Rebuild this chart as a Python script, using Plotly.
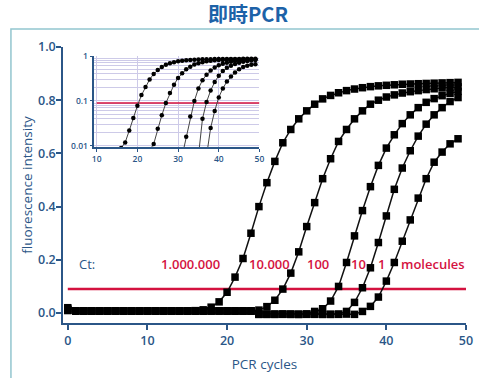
import plotly.graph_objects as go

# ---------------- data ----------------
cycles = list(range(0, 50))

curve_1000000 = [0.020, 0.008, 0.008, 0.007, 0.008, 0.008, 0.008, 0.007, 0.008, 0.008,
                 0.008, 0.008, 0.007, 0.008, 0.008, 0.008, 0.009, 0.012, 0.022, 0.042,
                 0.078, 0.135, 0.205, 0.300, 0.400, 0.490, 0.570, 0.640, 0.690, 0.730,
                 0.760, 0.785, 0.805, 0.818, 0.828, 0.836, 0.842, 0.847, 0.851, 0.854,
                 0.856, 0.858, 0.860, 0.861, 0.862, 0.863, 0.864, 0.865, 0.866, 0.867]
curve_10000 = [0.015, 0.008, 0.008, 0.008, 0.007, 0.008, 0.008, 0.008, 0.008, 0.007,
               0.008, 0.008, 0.008, 0.008, 0.007, 0.008, 0.008, 0.008, 0.008, 0.008,
               0.007, 0.008, 0.008, 0.008, 0.011, 0.024, 0.048, 0.090, 0.150, 0.230,
               0.325, 0.415, 0.505, 0.580, 0.645, 0.690, 0.730, 0.760, 0.785, 0.800,
               0.812, 0.820, 0.827, 0.832, 0.836, 0.840, 0.843, 0.846, 0.848, 0.850]
curve_100 = [0.010, 0.008, 0.008, 0.008, 0.008, 0.007, 0.008, 0.008, 0.008, 0.008,
             0.008, 0.007, 0.008, 0.008, 0.008, 0.008, 0.008, 0.007, 0.008, 0.008,
             0.008, 0.008, 0.008, 0.007, -0.004, -0.004, -0.005, -0.004, -0.004, -0.005,
             -0.004, 0.006, 0.016, 0.045, 0.100, 0.190, 0.290, 0.385, 0.475, 0.555,
             0.620, 0.670, 0.712, 0.745, 0.772, 0.792, 0.806, 0.817, 0.826, 0.833]
curve_10 = [0.010, 0.008, 0.008, 0.007, 0.008, 0.008, 0.008, 0.008, 0.007, 0.008,
            0.008, 0.008, 0.008, 0.008, 0.008, 0.007, 0.008, 0.008, 0.008, 0.008,
            0.008, 0.007, 0.008, 0.008, -0.005, -0.005, -0.004, -0.005, -0.005, -0.005,
            -0.004, -0.005, -0.005, -0.005, -0.004, 0.006, 0.040, 0.095, 0.170, 0.265,
            0.365, 0.465, 0.545, 0.610, 0.665, 0.710, 0.745, 0.772, 0.795, 0.810]
curve_1 = [0.010, 0.008, 0.007, 0.008, 0.008, 0.008, 0.008, 0.008, 0.008, 0.007,
           0.008, 0.008, 0.008, 0.008, 0.008, 0.008, 0.007, 0.008, 0.008, 0.008,
           0.008, 0.008, 0.007, 0.008, -0.005, -0.005, -0.005, -0.004, -0.005, -0.005,
           -0.005, -0.004, -0.005, -0.005, -0.005, -0.004, -0.005, 0.006, 0.025, 0.060,
           0.120, 0.190, 0.270, 0.350, 0.432, 0.505, 0.567, 0.605, 0.636, 0.655]

series = [curve_1000000, curve_10000, curve_100, curve_10, curve_1]

threshold = 0.09
x_ticks = [0, 10, 20, 30, 40, 50]
y_ticks = [0.0, 0.2, 0.4, 0.6, 0.8, 1.0]
inset_x_ticks = [10, 20, 30, 40, 50]
inset_y_ticks = [0.01, 0.1, 1]
inset_y_labels = ["0.01", "0.1", "1"]

ct_label = "Ct:"
copy_labels = ["1.000.000", "10.000", "100", "10", "1", "molecules"]
copy_label_x = [15.4, 25.3, 31.45, 36.5, 39.35, 45.9]
label_y = 0.184

# ---------------- style ----------------
BLUE = "#2b5687"
TITLE_BLUE = "#1d62a8"
RED = "#d4123f"
GRID = "#cdcae8"
FRAME = "#93c6cf"
FONT = "Open Sans, Noto Sans, DejaVu Sans, sans-serif"

fig = go.Figure()

# threshold (main)
fig.add_trace(go.Scatter(x=[x_ticks[0], x_ticks[-1]], y=[threshold, threshold], mode="lines",
                         line=dict(color=RED, width=2.5), hoverinfo="skip", showlegend=False,
                         xaxis="x", yaxis="y"))
# main curves
for s in series:
    fig.add_trace(go.Scatter(x=cycles, y=s, mode="lines+markers",
                             line=dict(color="#111111", width=1.5),
                             marker=dict(symbol="square", size=7.5, color="#000000"),
                             showlegend=False, xaxis="x", yaxis="y"))

# inset threshold
fig.add_trace(go.Scatter(x=[inset_x_ticks[0], inset_x_ticks[-1]], y=[threshold, threshold], mode="lines",
                         line=dict(color=RED, width=1.6), hoverinfo="skip", showlegend=False,
                         xaxis="x2", yaxis="y2"))
# inset curves
for s in series:
    fig.add_trace(go.Scatter(x=cycles, y=s, mode="lines+markers",
                             line=dict(color="#444444", width=1),
                             marker=dict(symbol="circle", size=4.5, color="#000000"),
                             showlegend=False, xaxis="x2", yaxis="y2"))

# plot area pixels: left 63, right 473.3, top 47, bottom 323
L, R, T, B = 63, 479 - 473.3, 47, 378 - 323
PW = 479 - L - R
PH = 378 - T - B

def px_x(p):
    return (p - L) / PW

def px_y(p):
    return (378 - B - p) / PH

axis_font = dict(family=FONT, size=12.5, color=BLUE, weight=600)

annotations = [dict(x=2.45, y=label_y, xref="x", yref="y", text=ct_label, showarrow=False,
                    font=dict(family=FONT, size=13, color=BLUE), xanchor="center", yanchor="middle")]
for lab, lx in zip(copy_labels, copy_label_x):
    annotations.append(dict(x=lx, y=label_y, xref="x", yref="y", text=lab, showarrow=False,
                            font=dict(family=FONT, size=13, color=RED, weight=600),
                            xanchor="center", yanchor="middle"))

shapes = [
    # outer frame
    dict(type="rect", xref="paper", yref="paper", x0=px_x(10), x1=px_x(490), y0=px_y(400), y1=px_y(29),
         line=dict(color=FRAME, width=1.5), fillcolor="rgba(0,0,0,0)", layer="below"),
]

ix0, ix1 = px_x(95), px_x(263)
iy0, iy1 = px_y(147.3), px_y(56)

fig.update_layout(
    width=479, height=378,
    margin=dict(l=L, r=R, t=T, b=B, pad=0),
    paper_bgcolor="white", plot_bgcolor="rgba(0,0,0,0)",
    title=dict(text="即時PCR", x=248 / 479, y=1 - 15 / 378, xref="container", yref="container",
               xanchor="center", yanchor="middle",
               font=dict(family="Noto Sans CJK TC, Noto Sans, sans-serif", size=20, color=TITLE_BLUE, weight=700)),
    xaxis=dict(domain=[0, 1], range=[-0.6, 50.0], tickvals=x_ticks, ticks="outside", ticklen=5,
               tickcolor=BLUE, tickwidth=1.5, showline=True, linecolor=BLUE, linewidth=1.5,
               showgrid=False, zeroline=False, tickfont=axis_font,
               title=dict(text="PCR cycles", font=dict(family=FONT, size=13.5, color=BLUE), standoff=12)),
    yaxis=dict(domain=[0, 1], range=[-0.0375, 1.0], tickvals=y_ticks, tickformat=".1f",
               ticks="outside", ticklen=5, tickcolor=BLUE, tickwidth=1.5, showline=True,
               linecolor=BLUE, linewidth=1.5, ticklabelstandoff=-2,
               showgrid=False, zeroline=False, tickfont=axis_font,
               title=dict(text="fluorescence intensity", font=dict(family=FONT, size=13.5, color=BLUE), standoff=2)),
    xaxis2=dict(domain=[ix0, ix1], anchor="y2", range=[9.44, 50], tickvals=inset_x_ticks,
                ticks="outside", ticklen=3, tickcolor=BLUE, showline=True, linecolor=BLUE, linewidth=1.5,
                showgrid=True, gridcolor=GRID, gridwidth=1, zeroline=False,
                tickfont=dict(family=FONT, size=8.5, color=BLUE, weight=600)),
    yaxis2=dict(domain=[iy0, iy1], anchor="x2", type="log", range=[-2.03, 0.0],
                tickvals=inset_y_ticks, ticktext=inset_y_labels,
                ticks="outside", ticklen=3, tickcolor=BLUE, showline=True, linecolor=BLUE, linewidth=1.5,
                showgrid=True, gridcolor=GRID, gridwidth=1, zeroline=False,
                minor=dict(dtick="D1", showgrid=True, gridcolor=GRID, gridwidth=1, ticks=""),
                tickfont=dict(family=FONT, size=8.5, color=BLUE, weight=600)),
    annotations=annotations,
    shapes=shapes,
)

fig.write_html("out.html", config={"displayModeBar": False},
               post_script="document.body.style.margin='0';")
